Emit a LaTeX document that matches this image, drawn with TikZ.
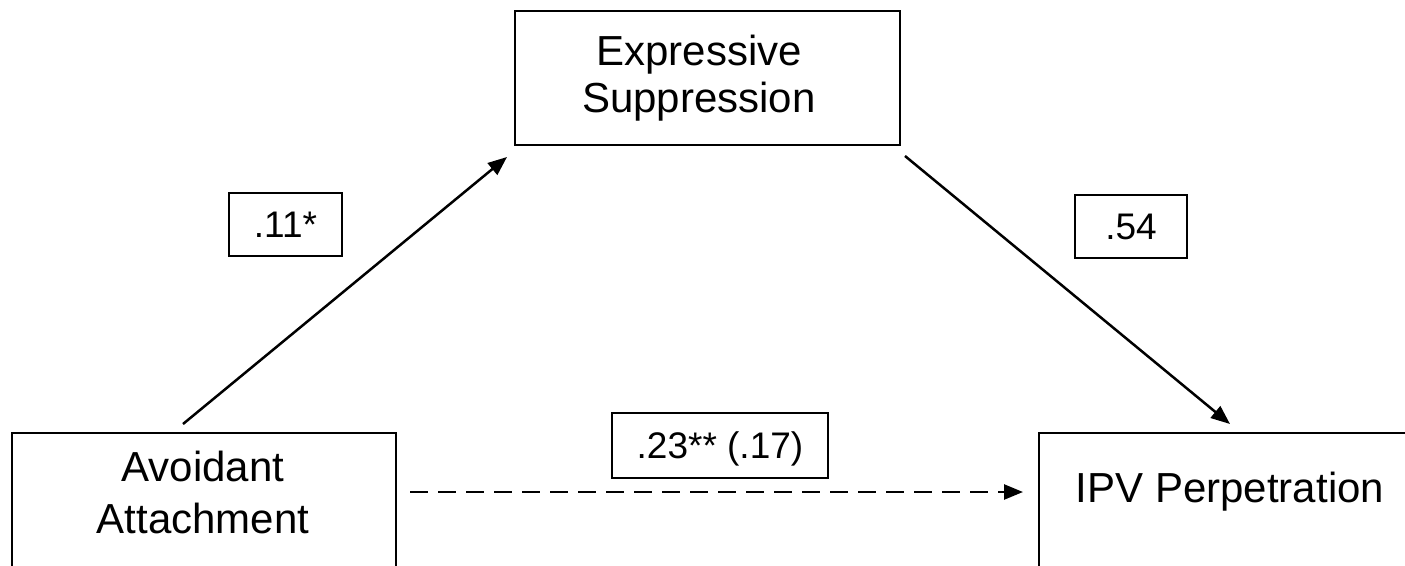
\documentclass[tikz,border=0pt]{standalone}
\usepackage{fontspec}
\setmainfont{Liberation Sans}
\usetikzlibrary{arrows.meta}
\begin{document}
\begin{tikzpicture}[x=1pt,y=-1pt,
  bigbox/.style={draw, line width=2pt, minimum width=384pt, minimum height=140pt, inner sep=0pt, anchor=north west},
  bigtext/.style={font=\fontsize{42}{52}\selectfont, align=center, inner sep=0pt},
  coef/.style={draw, line width=1.8pt, font=\fontsize{37}{44}\selectfont, inner sep=0pt, minimum height=63pt, text depth=0pt},
  arr/.style={line width=2.5pt, -{Triangle[length=19pt,width=15pt]}}
]
\useasboundingbox (0,0) rectangle (1405,565);
\clip (0,0) rectangle (1405,565);
\fill[white] (0,0) rectangle (1405,565);

\node[draw, line width=2pt, minimum width=385pt, minimum height=134pt, inner sep=0pt] (expr) at (707.5,78) {};
\node[bigtext, font=\fontsize{42}{47}\selectfont] (exprtext) at (699,78) {Expressive\\Suppression};

\node[bigbox] (avoid) at (11,432) {};
\node[bigtext] (avoidtext) at (203,492) {Avoidant\\Attachment};

\node[bigbox] (ipv) at (1038,432) {};
\node[bigtext, anchor=base] (ipvtext) at (1230,502) {IPV Perpetration};

\node[coef, minimum width=113pt] (c1) at (285.5,224.5) {.11*};
\node[coef, minimum width=112pt] (c2) at (1131,226.5) {.54};
\node[coef, minimum width=216pt, minimum height=65pt] (c3) at (720,445.5) {.23** (.17)};

\draw[arr] ([shift={(-21,-8)}]avoid.north) -- ([shift={(-7,11)}]expr.south west);
\draw[arr] ([shift={(4,10)}]expr.south east) -- ([shift={(192,-8)}]ipv.north west);
\draw[arr, dash pattern=on 18pt off 10pt] ([shift={(-628,-11)}]ipv.west) -- ([shift={(-15,-11)}]ipv.west);
\end{tikzpicture}
\end{document}
